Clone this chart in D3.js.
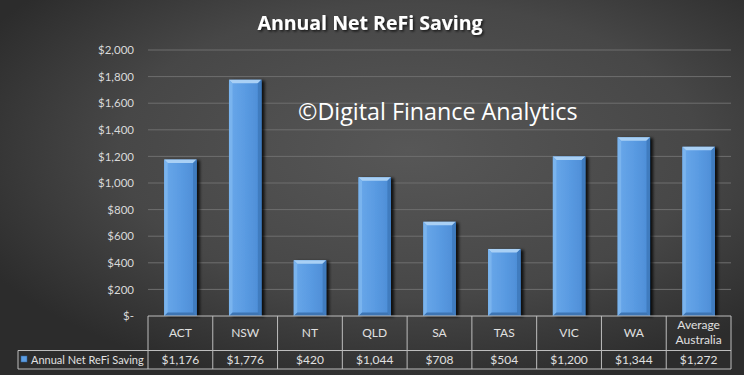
<!DOCTYPE html>
<html><head><meta charset="utf-8">
<script src="https://cdn.jsdelivr.net/npm/d3@7"></script>
<style>body{margin:0;background:#333;}svg{display:block;}</style>
</head><body>
<script>
const categories = ["ACT","NSW","NT","QLD","SA","TAS","VIC","WA","Average Australia"];
const values = [1176,1776,420,1044,708,504,1200,1344,1272];
const valueLabels = ["$1,176","$1,776","$420","$1,044","$708","$504","$1,200","$1,344","$1,272"];
const yTicks = [0,200,400,600,800,1000,1200,1400,1600,1800,2000];
const seriesName = "Annual Net ReFi Saving";
const title = "Annual Net ReFi Saving";
const watermark = "\u00A9Digital Finance Analytics";

const W=744,H=375;
const m={left:148,right:731,top:50,bottom:316};
const svg=d3.select("body").append("svg").attr("width",W).attr("height",H);
const defs=svg.append("defs");
const bg=defs.append("radialGradient").attr("id","bg").attr("cx","55%").attr("cy","40%").attr("r","65%");
bg.append("stop").attr("offset","0%").attr("stop-color","#575757");
bg.append("stop").attr("offset","60%").attr("stop-color","#474747");
bg.append("stop").attr("offset","100%").attr("stop-color","#2c2c2c");
svg.append("rect").attr("width",W).attr("height",H).attr("fill","url(#bg)");

const bodyG=defs.append("linearGradient").attr("id","barBody").attr("x1","0").attr("x2","1").attr("y1","0").attr("y2","0");
bodyG.append("stop").attr("offset","0%").attr("stop-color","#6aa8ea");
bodyG.append("stop").attr("offset","50%").attr("stop-color","#5a9be2");
bodyG.append("stop").attr("offset","100%").attr("stop-color","#4c8cd5");
const sh=defs.append("filter").attr("id","shadow").attr("x","-20%").attr("y","-5%").attr("width","150%").attr("height","110%");
sh.append("feGaussianBlur").attr("in","SourceAlpha").attr("stdDeviation","1.5");
sh.append("feOffset").attr("dx","2.5").attr("dy","1").attr("result","b");
sh.append("feComponentTransfer").append("feFuncA").attr("type","linear").attr("slope","0.8");
const mg=sh.append("feMerge");mg.append("feMergeNode");mg.append("feMergeNode").attr("in","SourceGraphic");
const ts=defs.append("filter").attr("id","tshadow");
ts.append("feDropShadow").attr("dx","1.5").attr("dy","1.5").attr("stdDeviation","1").attr("flood-color","#000").attr("flood-opacity","0.7");

const x=d3.scaleBand().domain(categories).range([m.left,m.right]).paddingInner(0).paddingOuter(0);
const y=d3.scaleLinear().domain([0,2000]).range([m.bottom,m.top]);

// gridlines
svg.append("g").selectAll("line").data(yTicks.slice(1)).join("line")
 .attr("x1",m.left).attr("x2",m.right).attr("y1",d=>y(d)).attr("y2",d=>y(d))
 .attr("stroke","#6e6e6e").attr("stroke-width",1);

// y axis labels
const yAxis=d3.axisLeft(y).tickValues(yTicks).tickSize(0).tickPadding(14)
 .tickFormat(d=>d===0?"$-":"$"+d3.format(",")(d));
const ya=svg.append("g").attr("transform",`translate(${m.left},0)`).call(yAxis);
ya.select(".domain").remove();
ya.selectAll("text").attr("fill","#d9d9d9").style("font-family","Lato, sans-serif").style("font-size","11.5px");

// watermark
svg.append("text").attr("x",298).attr("y",120).attr("fill","#ffffff")
 .style("font-family","'Open Sans', sans-serif").style("font-size","23.3px").text(watermark);

// bars
const bw=x.bandwidth()*0.5, bv=3.5;
const bars=svg.append("g").selectAll("g").data(categories).join("g").attr("filter","url(#shadow)");
bars.each(function(c,i){
  const g=d3.select(this);
  const x0=x(c)+(x.bandwidth()-bw)/2, x1=x0+bw, y0=y(values[i]), y1=y(0);
  g.append("rect").attr("x",x0).attr("y",y0).attr("width",bw).attr("height",y1-y0).attr("fill","url(#barBody)");
  g.append("path").attr("d",`M${x0},${y0}L${x1},${y0}L${x1-bv},${y0+bv}L${x0+bv},${y0+bv}Z`).attr("fill","#a9d0f5");
  g.append("path").attr("d",`M${x0},${y0}L${x0+bv},${y0+bv}L${x0+bv},${y1-bv}L${x0},${y1}Z`).attr("fill","#7ab4ee");
  g.append("path").attr("d",`M${x1},${y0}L${x1-bv},${y0+bv}L${x1-bv},${y1-bv}L${x1},${y1}Z`).attr("fill","#3f7bbf");
  g.append("path").attr("d",`M${x0},${y1}L${x0+bv},${y1-bv}L${x1-bv},${y1-bv}L${x1},${y1}Z`).attr("fill","#3c74b4");
});

// data table
const r1=316,r2=350.5,r3=369, lx=18;
const tg=svg.append("g").attr("stroke","#bdbdbd").attr("stroke-width",1).attr("fill","none");
tg.append("line").attr("x1",m.left).attr("x2",m.right).attr("y1",r1).attr("y2",r1);
tg.append("line").attr("x1",lx).attr("x2",m.right).attr("y1",r2).attr("y2",r2);
tg.append("line").attr("x1",lx).attr("x2",m.right).attr("y1",r3).attr("y2",r3);
tg.append("line").attr("x1",lx).attr("x2",lx).attr("y1",r2).attr("y2",r3);
const cols=categories.map(c=>x(c)).concat([m.right]);
tg.selectAll("line.v").data(cols).join("line").attr("class","v")
 .attr("x1",d=>d).attr("x2",d=>d).attr("y1",r1).attr("y2",r3);

const txt=svg.append("g").style("font-family","Lato, sans-serif").style("font-size","12px").attr("fill","#e0e0e0").attr("text-anchor","middle");
categories.forEach((c,i)=>{
  const cx=x(c)+x.bandwidth()/2;
  const words=c.split(" ");
  if(words.length===1){
    txt.append("text").attr("x",cx).attr("y",337).text(c);
  } else {
    txt.append("text").attr("x",cx).attr("y",329).text(words[0]);
    txt.append("text").attr("x",cx).attr("y",344).text(words[1]);
  }
  txt.append("text").attr("x",cx).attr("y",364).text(valueLabels[i]);
});
svg.append("rect").attr("x",21).attr("y",356).attr("width",6).attr("height",6).attr("fill","#5c9de2").attr("stroke","#2d5f99").attr("stroke-width",0.5);
svg.append("text").attr("x",31).attr("y",364).attr("fill","#e0e0e0")
 .style("font-family","Lato, sans-serif").style("font-size","11px").text(seriesName);

// title
svg.append("text").attr("x",370).attr("y",30).attr("text-anchor","middle").attr("fill","#ffffff")
 .attr("filter","url(#tshadow)")
 .style("font-family","'Open Sans', sans-serif").style("font-weight","bold").style("font-size","19.5px").text(title);
</script>
</body></html>
